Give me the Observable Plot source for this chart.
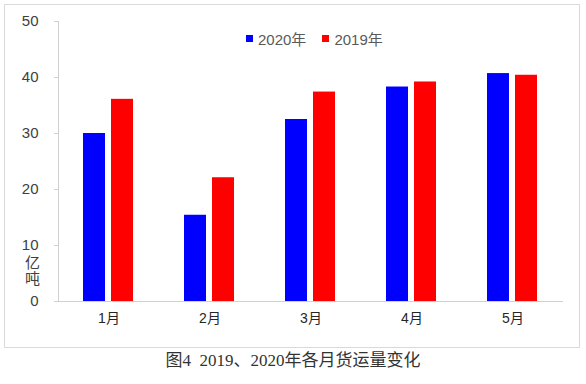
<!DOCTYPE html>
<html>
<head>
<meta charset="utf-8">
<script src="https://cdn.jsdelivr.net/npm/d3@7"></script>
<script src="https://cdn.jsdelivr.net/npm/@observablehq/plot@0.6"></script>
<style>
  html, body { margin: 0; padding: 0; background: #fff; }
  body { width: 586px; height: 384px; position: relative; overflow: hidden; }
  #wrap { position: absolute; left: 4px; top: 4px; width: 574px; height: 342px; border: 1px solid #d9d9d9; }
  #chart svg { display: block; }
  #legend { position: absolute; left: 241px; top: 17px; }
  #legend svg { margin-right: 5px !important; }
  #legend span { margin-right: 16px !important; }
  #caption { position: absolute; left: 0; top: 352px; width: 586px; text-align: center;
    font-family: "Liberation Serif", "Noto Sans CJK SC", serif; font-size: 17px; color: #333; line-height: 17px; }
</style>
</head>
<body>
<div id="wrap"><div id="chart"></div><div id="legend"></div></div>
<div id="caption">图4&nbsp; 2019、2020年各月货运量变化</div>
<script>
const months = ["1月", "2月", "3月", "4月", "5月"];
const seriesNames = ["2020年", "2019年"];
const seriesColors = ["#0000ff", "#ff0000"];
const values2020 = [30.0, 15.4, 32.5, 38.3, 40.7];
const values2019 = [36.1, 22.1, 37.4, 39.2, 40.4];
const yTicks = [0, 10, 20, 30, 40, 50];
const yUnit = "亿\n吨";

const rows = [];
months.forEach((m, i) => {
  rows.push({month: m, series: seriesNames[0], value: values2020[i]});
  rows.push({month: m, series: seriesNames[1], value: values2019[i]});
});

const font = '"Liberation Sans", Arial, "Noto Sans CJK SC", sans-serif';

const chart = Plot.plot({
  width: 574,
  height: 342,
  marginLeft: 51,
  marginRight: 14,
  marginTop: 16,
  marginBottom: 46,
  style: {fontFamily: font, fontSize: "15px", background: "transparent", overflow: "visible"},
  fx: {domain: months, padding: 0, label: null, axis: null},
  x: {domain: seriesNames, paddingInner: 0.207, paddingOuter: 0.86, axis: null},
  y: {domain: [0, 50], axis: null},
  color: {domain: seriesNames, range: seriesColors},
  marks: [
    Plot.barY(rows, {fx: "month", x: "series", y: "value", fill: "series"}),
    Plot.ruleY([0], {stroke: "#d0d0d0", strokeWidth: 1}),
    Plot.frame({anchor: "left", stroke: "#d0d0d0", facetAnchor: "left"}),
    Plot.axisY({anchor: "left", ticks: yTicks, tickSize: 4, tickPadding: 16, stroke: "#d0d0d0", fill: "#404040", label: null, fontSize: 15}),
    Plot.axisFx({anchor: "bottom", tickSize: 0, tickPadding: 12, fill: "#262626", label: null, fontSize: 14}),
    Plot.text([{fx: months[0], t: yUnit}], {fx: "fx", text: "t", frameAnchor: "bottom-left", dx: -26, dy: -31, lineAnchor: "middle", textAnchor: "middle", lineHeight: 1.1, fill: "#404040", fontSize: 15})
  ]
});
document.getElementById("chart").appendChild(chart);

const legend = Plot.legend({
  color: {type: "ordinal", domain: seriesNames, range: seriesColors},
  swatchSize: 7,
  style: {fontFamily: font, fontSize: "15px", color: "#595959"}
});
document.getElementById("legend").appendChild(legend);
</script>
</body>
</html>
